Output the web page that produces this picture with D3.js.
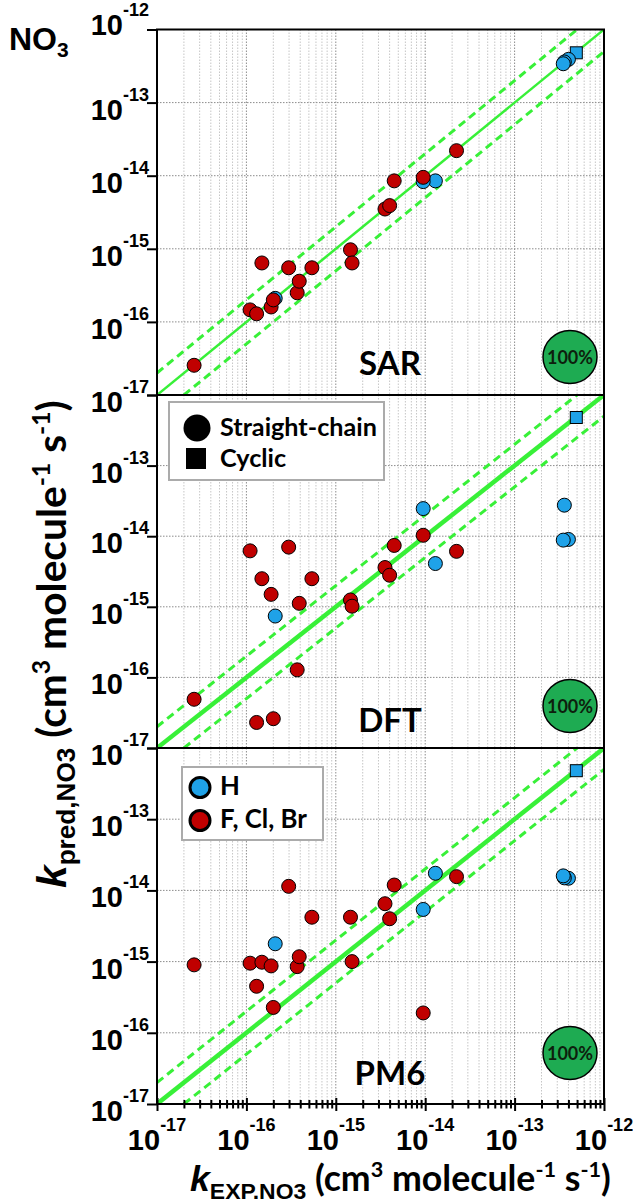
<!DOCTYPE html>
<html><head><meta charset="utf-8">
<script src="https://cdn.jsdelivr.net/npm/d3@7"></script>
<style>body{margin:0;background:#fff} svg{display:block}</style>
</head><body>
<svg id="c" width="633" height="1203"></svg>
<script>
// ---------------- DATA ----------------
const kExp = [4.9e-13, 4.0e-13, 3.6e-13, 3.5e-13, 1.3e-14, 9.5e-15, 2.1e-16,
  2.6e-17, 1.1e-16, 1.3e-16, 1.49e-16, 1.89e-16, 2.0e-16, 2.97e-16, 3.7e-16, 3.9e-16,
  5.4e-16, 1.46e-15, 1.52e-15, 3.55e-15, 4.0e-15, 4.5e-15, 9.5e-15, 2.24e-14];
const substituent = ["H","H","H","H","H","H","H",
  "F, Cl, Br","F, Cl, Br","F, Cl, Br","F, Cl, Br","F, Cl, Br","F, Cl, Br","F, Cl, Br","F, Cl, Br","F, Cl, Br",
  "F, Cl, Br","F, Cl, Br","F, Cl, Br","F, Cl, Br","F, Cl, Br","F, Cl, Br","F, Cl, Br","F, Cl, Br"];
const structure = ["Cyclic","Straight-chain","Straight-chain","Straight-chain","Straight-chain","Straight-chain","Straight-chain",
  "Straight-chain","Straight-chain","Straight-chain","Straight-chain","Straight-chain","Straight-chain","Straight-chain","Straight-chain","Straight-chain",
  "Straight-chain","Straight-chain","Straight-chain","Straight-chain","Straight-chain","Straight-chain","Straight-chain","Straight-chain"];
const kSAR = [4.8e-13, 3.9e-13, 3.6e-13, 3.4e-13, 8.5e-15, 8.3e-15, 2.1e-16,
  2.55e-17, 1.46e-16, 1.29e-16, 6.4e-16, 1.6e-16, 2.0e-16, 5.5e-16, 2.5e-16, 3.6e-16,
  5.5e-16, 9.7e-16, 6.4e-16, 3.5e-15, 3.9e-15, 8.5e-15, 9.5e-15, 2.2e-14];
const kDFT = [4.8e-13, 9.0e-15, 2.75e-14, 8.8e-15, 4.1e-15, 2.46e-14, 7.4e-16,
  4.9e-17, 6.2e-15, 2.3e-17, 2.5e-15, 1.5e-15, 2.6e-17, 7.0e-15, 1.28e-16, 1.12e-15,
  2.5e-15, 1.25e-15, 1.02e-15, 3.6e-15, 2.8e-15, 7.4e-15, 1.03e-14, 6.1e-15];
const kPM6 = [4.8e-13, 1.48e-14, 1.5e-14, 1.6e-14, 1.74e-14, 5.4e-15, 1.78e-15,
  9.0e-16, 9.5e-16, 4.5e-16, 9.8e-16, 8.7e-16, 2.27e-16, 1.14e-14, 8.5e-16, 1.17e-15,
  4.2e-15, 4.2e-15, 1.0e-15, 6.5e-15, 4.0e-15, 1.19e-14, 1.9e-16, 1.56e-14];
const methodNames = ["SAR", "DFT", "PM6"];
const agreement = ["100%", "100%", "100%"];
const decadeExps = [-17, -16, -15, -14, -13, -12];
const legendStructure = ["Straight-chain", "Cyclic"];
const legendSubstituent = ["H", "F, Cl, Br"];
const factorBand = 2;

// ---------------- LAYOUT / STYLE ----------------
const svg = d3.select("#c");
const X0 = 157, X1 = 604;
const panelTop = [29.5, 395, 748], panelBot = [395, 748, 1104];
const methodBaseline = [375, 732, 1085];
const badgeCy = [357, 706, 1053];
const colorOf = {"H": "#1fa2e8", "F, Cl, Br": "#c00000"};
const green = "#38f038";
const ARIAL = "'Liberation Sans', Arial, sans-serif";
const CAL = "Lato, 'Open Sans', sans-serif";
const kPanels = [kSAR, kDFT, kPM6];
const TICK_FS = 29, SUP_FS = 18;

const x = d3.scaleLog().domain([1e-17, 1e-12]).range([X0, X1]);
const minorVals = [];
decadeExps.forEach(e => { for (let m = 1; m <= 9; m++) { if (e === -12 && m > 1) break; minorVals.push(+(m + "e" + e)); } });
const majorVals = decadeExps.map(e => +("1e" + e));

function richText(g, parts, opts, s) {
  const t = g.append("text").attr("x", opts.x).attr("y", opts.y)
    .attr("text-anchor", opts.anchor || "start").attr("font-weight", "bold")
    .attr("fill", opts.fill || "#000").style("white-space", "pre");
  if (opts.rotate) t.attr("transform", `rotate(-90 ${opts.x} ${opts.y})`);
  parts.forEach(p => {
    t.append("tspan").attr("font-family", p.font).attr("font-size", p.size * s)
      .attr("font-style", p.italic ? "italic" : null).attr("dy", (p.dy || 0) * s).text(p.text);
  });
  return t;
}
function fitRich(g, parts, opts, target) {
  const t = richText(g, parts, opts, 1);
  const w = t.node().getComputedTextLength();
  t.remove();
  return richText(g, parts, opts, target / w);
}
function fitSize(font, size, str, target) {
  const t = svg.append("text").attr("font-family", font).attr("font-size", size).attr("font-weight", "bold").text(str);
  const w = t.node().getComputedTextLength(); t.remove();
  return size * target / w;
}
function powerLabel(g, xPos, yPos, e, anchor, supDy) {
  const t = g.append("text").attr("x", xPos).attr("y", yPos)
    .attr("text-anchor", anchor).attr("font-family", ARIAL).attr("font-weight", "bold");
  t.append("tspan").attr("font-size", TICK_FS).text("10");
  t.append("tspan").attr("font-size", SUP_FS).attr("dy", supDy).text(String(e));
  return t;
}

const defs = svg.append("defs");

kPanels.forEach((vals, p) => {
  const yT = panelTop[p], yB = panelBot[p];
  const y = d3.scaleLog().domain([1e-17, 1e-12]).range([yB, yT]);
  const g = svg.append("g");
  defs.append("clipPath").attr("id", "clip" + p).append("rect")
    .attr("x", X0).attr("y", yT).attr("width", X1 - X0).attr("height", yB - yT);

  // grid
  g.append("g").selectAll("line").data(minorVals).join("line")
    .attr("x1", d => x(d)).attr("x2", d => x(d)).attr("y1", yT).attr("y2", yB)
    .attr("stroke", d => majorVals.includes(d) ? "#8c8c8c" : "#c6c6c6")
    .attr("stroke-width", 1).attr("stroke-dasharray", "1.5,1.5");
  g.append("g").selectAll("line").data(majorVals.slice(1, 5)).join("line")
    .attr("x1", X0).attr("x2", X1).attr("y1", d => y(d)).attr("y2", d => y(d))
    .attr("stroke", "#8c8c8c").attr("stroke-width", 1).attr("stroke-dasharray", "1.5,1.5");

  // 1:1 and factor-of-2 lines
  const lg = g.append("g").attr("clip-path", `url(#clip${p})`);
  const line = d3.line().x(d => x(d[0])).y(d => y(d[1]));
  lg.append("path").attr("d", line([[1e-17, 1e-17], [1e-12, 1e-12]]))
    .attr("stroke", green).attr("stroke-width", p === 0 ? 2.5 : 4.5).attr("fill", "none");
  lg.append("path").attr("d", line([[1e-17, 1e-17 * factorBand], [1e-12 / factorBand, 1e-12]]))
    .attr("stroke", green).attr("stroke-width", 3).attr("stroke-dasharray", "8,5").attr("fill", "none");
  lg.append("path").attr("d", line([[1e-17 * factorBand, 1e-17], [1e-12, 1e-12 / factorBand]]))
    .attr("stroke", green).attr("stroke-width", 3).attr("stroke-dasharray", "8,5").attr("fill", "none");

  // points
  const pts = g.append("g");
  kExp.forEach((xe, i) => {
    const cx = x(xe), cy = y(vals[i]);
    if (structure[i] === "Cyclic") {
      pts.append("rect").attr("x", cx - 6).attr("y", cy - 6).attr("width", 12).attr("height", 12)
        .attr("fill", colorOf[substituent[i]]).attr("stroke", "#000").attr("stroke-width", 1);
    } else {
      pts.append("circle").attr("cx", cx).attr("cy", cy).attr("r", 7)
        .attr("fill", colorOf[substituent[i]]).attr("stroke", "#000").attr("stroke-width", 1);
    }
  });

  // frame
  g.append("rect").attr("x", X0).attr("y", yT).attr("width", X1 - X0).attr("height", yB - yT)
    .attr("fill", "none").attr("stroke", "#000").attr("stroke-width", 2);

  // y axis ticks
  const ax = g.append("g").attr("transform", `translate(${X0},0)`)
    .call(d3.axisLeft(y).tickValues(majorVals).tickSize(10).tickFormat(""));
  ax.select(".domain").remove();
  ax.selectAll(".tick line").attr("stroke", "#000").attr("stroke-width", 2);

  // y tick labels
  const labs = p === 0 ? decadeExps : decadeExps.slice(0, 5);
  labs.forEach(e => {
    const ty = y(+("1e" + e));
    if (e === -12) powerLabel(g, 149, ty + 5, e, "end", -19);
    else powerLabel(g, 149, ty + 17, e, "end", -19);
  });

  // method label
  g.append("text").attr("x", 390).attr("y", methodBaseline[p]).attr("text-anchor", "middle")
    .attr("font-family", CAL).attr("font-weight", "bold").attr("font-size", 33).text(methodNames[p]);

  // badge
  g.append("ellipse").attr("cx", 570).attr("cy", badgeCy[p]).attr("rx", 27).attr("ry", 26.5)
    .attr("fill", "#1eab52").attr("stroke", "#000").attr("stroke-width", 1.5);
  g.append("text").attr("x", 570).attr("y", badgeCy[p] + 6.5).attr("text-anchor", "middle")
    .attr("font-family", CAL).attr("font-weight", "bold").attr("font-size", 18)
    .attr("fill", "#0d1f0d").text(agreement[p]);
});

// x axis on bottom panel
const yBottom = panelBot[2];
const xa = svg.append("g").attr("transform", `translate(0,${yBottom})`)
  .call(d3.axisBottom(x).tickValues(minorVals).tickSize(7).tickFormat(""));
xa.select(".domain").remove();
xa.selectAll(".tick line").attr("stroke", "#000").attr("stroke-width", 2)
  .attr("y1", d => majorVals.includes(d) ? -6 : -4)
  .attr("y2", d => majorVals.includes(d) ? 7 : 4.5);
decadeExps.forEach(e => powerLabel(svg, x(+("1e" + e)), 1150, e, "middle", -19));

// NO3 label
const no3 = svg.append("text").attr("x", 9).attr("y", 50).attr("font-family", ARIAL).attr("font-weight", "bold");
no3.append("tspan").attr("font-size", 32).text("NO");
no3.append("tspan").attr("font-size", 21).attr("dy", 7).text("3");

// axis titles
const titleTail = [
  {text: " (cm", font: CAL, size: 28, dy: -6},
  {text: "3", font: CAL, size: 17, dy: -11},
  {text: " molecule", font: CAL, size: 28, dy: 11},
  {text: "-1", font: CAL, size: 17, dy: -11},
  {text: " s", font: CAL, size: 28, dy: 11},
  {text: "-1", font: CAL, size: 17, dy: -11},
  {text: ")", font: CAL, size: 28, dy: 11}
];
fitRich(svg, [{text: "k", font: ARIAL, size: 28, italic: true}, {text: "EXP.NO3", font: ARIAL, size: 18, dy: 6}].concat(titleTail),
  {x: 190, y: 1191}, 421);
fitRich(svg, [{text: "k", font: ARIAL, size: 28, italic: true}, {text: "pred,NO3", font: ARIAL, size: 18, dy: 6}].concat(titleTail),
  {x: 66, y: 888, rotate: true}, 488);

// legend 1 (structure)
const L1 = svg.append("g");
L1.append("rect").attr("x", 169).attr("y", 402).attr("width", 215).attr("height", 78)
  .attr("fill", "#fff").attr("stroke", "#ababab").attr("stroke-width", 2);
L1.append("circle").attr("cx", 197).attr("cy", 428).attr("r", 13.5).attr("fill", "#000");
L1.append("rect").attr("x", 186).attr("y", 448).attr("width", 20).attr("height", 21).attr("fill", "#000");
const fs1 = fitSize(CAL, 26, legendStructure[0], 157);
legendStructure.forEach((s, i) => {
  L1.append("text").attr("x", 220).attr("y", i === 0 ? 436 : 467).attr("font-family", CAL)
    .attr("font-weight", "bold").attr("font-size", fs1).text(s);
});

// legend 2 (substituent)
const L2 = svg.append("g");
L2.append("rect").attr("x", 182).attr("y", 767).attr("width", 141).attr("height", 73)
  .attr("fill", "#fff").attr("stroke", "#ababab").attr("stroke-width", 2);
const fs2 = fitSize(CAL, 22, legendSubstituent[1], 87);
legendSubstituent.forEach((s, i) => {
  const cy = i === 0 ? 787.5 : 820.5;
  L2.append("circle").attr("cx", 200).attr("cy", cy).attr("r", 10)
    .attr("fill", colorOf[s]).attr("stroke", "#000").attr("stroke-width", 3);
  L2.append("text").attr("x", 220).attr("y", cy + 7.5).attr("font-family", CAL)
    .attr("font-weight", "bold").attr("font-size", fs2).text(s);
});
</script>
</body></html>
